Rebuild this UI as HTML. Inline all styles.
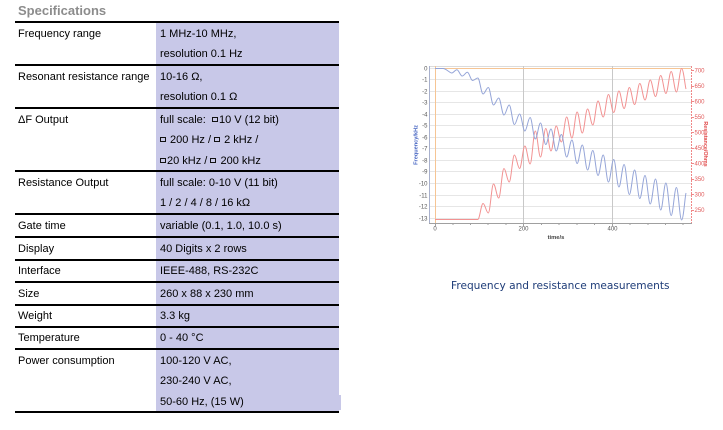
<!DOCTYPE html>
<html>
<head>
<meta charset="utf-8">
<style>
  html,body{margin:0;padding:0;background:#fff;}
  body{width:723px;height:430px;position:relative;overflow:hidden;font-family:"Liberation Sans",Arial,sans-serif;color:#000;}
  .abs{position:absolute;}
  .hline{position:absolute;left:15px;width:324px;height:2px;background:#000;}
  .lt{position:absolute;left:18px;font-size:11px;line-height:20.5px;white-space:pre;}
  .rt{position:absolute;left:160px;font-size:11px;line-height:20.5px;white-space:pre;}
  .sq{display:inline-block;width:4px;height:3px;border:1px solid #111;vertical-align:1px;margin-right:1px;}
</style>
</head>
<body>
<div class="abs" style="left:18px;top:2px;font-size:13px;font-weight:bold;color:#8c8c8c;line-height:18px;">Specifications</div>

<div class="abs" style="left:156px;top:23px;width:183px;height:388px;background:#c8c8e8;"></div>
<div class="abs" style="left:339px;top:395px;width:2px;height:15px;background:#c8c8e8;"></div>

<div class="hline" style="top:21px"></div>
<div class="hline" style="top:64px"></div>
<div class="hline" style="top:107px"></div>
<div class="hline" style="top:170px"></div>
<div class="hline" style="top:213px"></div>
<div class="hline" style="top:236px"></div>
<div class="hline" style="top:259px"></div>
<div class="hline" style="top:281px"></div>
<div class="hline" style="top:304px"></div>
<div class="hline" style="top:326px"></div>
<div class="hline" style="top:348px"></div>
<div class="hline" style="top:411px"></div>

<div class="lt" style="top:23.5px">Frequency range</div>
<div class="rt" style="top:23.5px">1 MHz-10 MHz,
resolution 0.1 Hz</div>

<div class="lt" style="top:66.5px">Resonant resistance range</div>
<div class="rt" style="top:66.5px">10-16 Ω,
resolution 0.1 Ω</div>

<div class="lt" style="top:109.5px">ΔF Output</div>
<div class="rt" style="top:109.5px">full scale:  <span class="sq"></span>10 V (12 bit)
<span class="sq"></span> 200 Hz / <span class="sq"></span> 2 kHz /
<span class="sq"></span>20 kHz / <span class="sq"></span> 200 kHz</div>

<div class="lt" style="top:172.5px">Resistance Output</div>
<div class="rt" style="top:172.5px">full scale: 0-10 V (11 bit)
1 / 2 / 4 / 8 / 16 kΩ</div>

<div class="lt" style="top:215.5px">Gate time</div>
<div class="rt" style="top:215.5px">variable (0.1, 1.0, 10.0 s)</div>

<div class="lt" style="top:238.5px">Display</div>
<div class="rt" style="top:238.5px">40 Digits x 2 rows</div>

<div class="lt" style="top:261px">Interface</div>
<div class="rt" style="top:261px">IEEE-488, RS-232C</div>

<div class="lt" style="top:283.5px">Size</div>
<div class="rt" style="top:283.5px">260 x 88 x 230 mm</div>

<div class="lt" style="top:306px">Weight</div>
<div class="rt" style="top:306px">3.3 kg</div>

<div class="lt" style="top:328px">Temperature</div>
<div class="rt" style="top:328px">0 - 40 °C</div>

<div class="lt" style="top:350.5px">Power consumption</div>
<div class="rt" style="top:350.5px">100-120 V AC,
230-240 V AC,
50-60 Hz, (15 W)</div>

<svg class="abs" style="left:0;top:0" width="723" height="430" viewBox="0 0 723 430" xmlns="http://www.w3.org/2000/svg">
  <g stroke="#e6e6e6" stroke-width="1">
    <line x1="429" y1="79.5" x2="691" y2="79.5"/>
    <line x1="429" y1="91.5" x2="691" y2="91.5"/>
    <line x1="429" y1="102.5" x2="691" y2="102.5"/>
    <line x1="429" y1="114.5" x2="691" y2="114.5"/>
    <line x1="429" y1="125.5" x2="691" y2="125.5"/>
    <line x1="429" y1="137.5" x2="691" y2="137.5"/>
    <line x1="429" y1="148.5" x2="691" y2="148.5"/>
    <line x1="429" y1="160.5" x2="691" y2="160.5"/>
    <line x1="429" y1="171.5" x2="691" y2="171.5"/>
    <line x1="429" y1="183.5" x2="691" y2="183.5"/>
    <line x1="429" y1="195.5" x2="691" y2="195.5"/>
    <line x1="429" y1="206.5" x2="691" y2="206.5"/>
    <line x1="429" y1="218.5" x2="691" y2="218.5"/>
  </g>
  <line x1="429" y1="66.5" x2="691" y2="66.5" stroke="#dcdcdc"/>
  <line x1="429" y1="68.5" x2="435" y2="68.5" stroke="#e6e6e6"/>
  <line x1="523.5" y1="66" x2="523.5" y2="223" stroke="#c8c8c8"/>
  <line x1="612.5" y1="66" x2="612.5" y2="223" stroke="#c8c8c8"/>
  <line x1="435" y1="68.5" x2="691" y2="68.5" stroke="#f6c594"/>
  <line x1="435.5" y1="66" x2="435.5" y2="223" stroke="#f6c594"/>
  <line x1="429.5" y1="66" x2="429.5" y2="224" stroke="#a8b0cc"/>
  <line x1="691.5" y1="66" x2="691.5" y2="224" stroke="#f08888" stroke-dasharray="2,1"/>
  <line x1="429" y1="223.5" x2="692" y2="223.5" stroke="#a0a0a0"/>
  <g stroke="#a0a0a0">
    <line x1="435.5" y1="223" x2="435.5" y2="226"/>
    <line x1="453" y1="223" x2="453" y2="225"/>
    <line x1="470.5" y1="223" x2="470.5" y2="225"/>
    <line x1="488" y1="223" x2="488" y2="225"/>
    <line x1="506" y1="223" x2="506" y2="225"/>
    <line x1="523.5" y1="223" x2="523.5" y2="226"/>
    <line x1="541.5" y1="223" x2="541.5" y2="225"/>
    <line x1="559" y1="223" x2="559" y2="225"/>
    <line x1="577" y1="223" x2="577" y2="225"/>
    <line x1="594.5" y1="223" x2="594.5" y2="225"/>
    <line x1="612.5" y1="223" x2="612.5" y2="226"/>
    <line x1="630" y1="223" x2="630" y2="225"/>
    <line x1="648" y1="223" x2="648" y2="225"/>
    <line x1="665.5" y1="223" x2="665.5" y2="225"/>
    <line x1="683" y1="223" x2="683" y2="225"/>
  </g>
  <g stroke="#f08888">
    <line x1="691" y1="70.5" x2="694" y2="70.5"/>
    <line x1="691" y1="86.5" x2="694" y2="86.5"/>
    <line x1="691" y1="101.5" x2="694" y2="101.5"/>
    <line x1="691" y1="117.5" x2="694" y2="117.5"/>
    <line x1="691" y1="132.5" x2="694" y2="132.5"/>
    <line x1="691" y1="148.5" x2="694" y2="148.5"/>
    <line x1="691" y1="163.5" x2="694" y2="163.5"/>
    <line x1="691" y1="179.5" x2="694" y2="179.5"/>
    <line x1="691" y1="194.5" x2="694" y2="194.5"/>
    <line x1="691" y1="210.5" x2="694" y2="210.5"/>
  </g>

  <g font-family="Liberation Sans, Arial, sans-serif" font-size="6" fill="#555" text-anchor="end">
    <text x="427.5" y="70.5">0</text>
    <text x="427.5" y="81.5">-1</text>
    <text x="427.5" y="93.5">-2</text>
    <text x="427.5" y="104.5">-3</text>
    <text x="427.5" y="116.5">-4</text>
    <text x="427.5" y="127.5">-5</text>
    <text x="427.5" y="139.5">-6</text>
    <text x="427.5" y="150.5">-7</text>
    <text x="427.5" y="162.5">-8</text>
    <text x="427.5" y="173.5">-9</text>
    <text x="427.5" y="185.5">-10</text>
    <text x="427.5" y="197.5">-11</text>
    <text x="427.5" y="208.5">-12</text>
    <text x="427.5" y="220.5">-13</text>
  </g>
  <g font-family="Liberation Sans, Arial, sans-serif" font-size="6" fill="#e05a5a">
    <text x="694.5" y="72.7">700</text>
    <text x="694.5" y="88.2">650</text>
    <text x="694.5" y="103.7">600</text>
    <text x="694.5" y="119.2">550</text>
    <text x="694.5" y="134.7">500</text>
    <text x="694.5" y="150.2">450</text>
    <text x="694.5" y="165.7">400</text>
    <text x="694.5" y="181.2">350</text>
    <text x="694.5" y="196.7">300</text>
    <text x="694.5" y="212.2">250</text>
  </g>
  <g font-family="Liberation Sans, Arial, sans-serif" font-size="6" fill="#555" text-anchor="middle">
    <text x="435" y="230.5">0</text>
    <text x="523.5" y="230.5">200</text>
    <text x="612.5" y="230.5">400</text>
  </g>
  <text x="556" y="239" font-family="Liberation Sans, Arial, sans-serif" font-size="5.8" font-weight="bold" fill="#444" text-anchor="middle">time/s</text>
  <text transform="translate(417.5,145) rotate(-90)" font-family="Liberation Sans, Arial, sans-serif" font-size="5.6" font-weight="bold" fill="#4060c0" text-anchor="middle">Frequency/kHz</text>
  <text transform="translate(704,144) rotate(90)" font-family="Liberation Sans, Arial, sans-serif" font-size="5.4" font-weight="bold" fill="#e04848" text-anchor="middle">Resistance/Ohms</text>

  <path fill="none" stroke="#f29292" stroke-width="1" d="M435,219.5 L477.8,219.5 C479.7,219.5 481.15,203.5 483.05,203.5
  S486.4,213 488.3,213 S491.6,184 493.5,184 S496.8,198 498.7,198 S502.05,168.5 503.95,168.5
  S507.3,182 509.2,182 S512.5,155 514.4,155 S517.7,168.5 519.6,168.5 S522.95,146 524.85,146
  S528.2,164 530.1,164 S533.4,131 535.3,131 S538.6,157 540.5,157 S543.85,128.5 545.75,128.5
  S549.1,151 551,151 S554.3,126 556.2,126 S559.5,142 561.4,142 S564.75,117 566.65,117
  S570,138 571.9,138 S575.2,112 577.1,112 S580.4,133 582.3,133 S585.65,109 587.55,109
  S590.9,125 592.8,125 S596.1,101 598,101 S601.3,117 603.2,117 S606.55,94.5 608.45,94.5
  S611.8,112.5 613.7,112.5 S617,91 618.9,91 S622.2,108.5 624.1,108.5 S627.45,87.5 629.35,87.5
  S632.7,104.5 634.6,104.5 S637.9,83.5 639.8,83.5 S643.1,100 645,100 S648.35,80 650.25,80
  S653.6,96.5 655.5,96.5 S658.8,75.5 660.7,75.5 S664,93.5 665.9,93.5 S669.25,71.5 671.15,71.5
  S674.5,92 676.4,92 S679.7,68.5 681.6,68.5 S685,86 686,89"/>

  <path fill="none" stroke="#95a5d8" stroke-width="1" d="M435,68.5 L443,68.5 C446,68.5 449.8,73 451.7,73
  S455,69.7 456.9,69.7 S460.25,76 462.15,76 S465.5,72.3 467.4,72.3 S470.7,80.5 472.6,80.5
  S475.9,78 477.8,78 S481.15,94 483.05,94 S486.4,87.5 488.3,87.5 S491.6,105 493.5,105
  S496.8,98 498.7,98 S502.05,115 503.95,115 S507.3,105 509.2,105 S512.5,124.5 514.4,124.5
  S517.7,114 519.6,114 S522.95,131 524.85,131 S528.2,117.5 530.1,117.5 S533.4,139 535.3,139
  S538.6,123 540.5,123 S543.85,144.5 545.75,144.5 S549.1,129 551,129 S554.3,151 556.2,151
  S559.5,134.5 561.4,134.5 S564.75,157 566.65,157 S570,140 571.9,140 S575.2,163.5 577.1,163.5
  S580.4,145 582.3,145 S585.65,170 587.55,170 S590.9,150.5 592.8,150.5 S596.1,175.5 598,175.5
  S601.3,155 603.2,155 S606.55,182 608.45,182 S611.8,159.5 613.7,159.5 S617,187 618.9,187
  S622.2,164.5 624.1,164.5 S627.45,194.5 629.35,194.5 S632.7,170 634.6,170 S637.9,198.5 639.8,198.5
  S643.1,175.5 645,175.5 S648.35,204 650.25,204 S653.6,179 655.5,179 S658.8,210 660.7,210
  S664,183 665.9,183 S669.25,215.5 671.15,215.5 S674.5,187.5 676.4,187.5 S679.7,220 681.6,220
  S685,196 686,193"/>
</svg>

<div class="abs" style="left:451px;top:279px;font-family:'DejaVu Sans',Verdana,sans-serif;font-size:10.6px;line-height:14px;color:#1e3c78;white-space:nowrap;">Frequency and resistance measurements</div>
</body>
</html>
